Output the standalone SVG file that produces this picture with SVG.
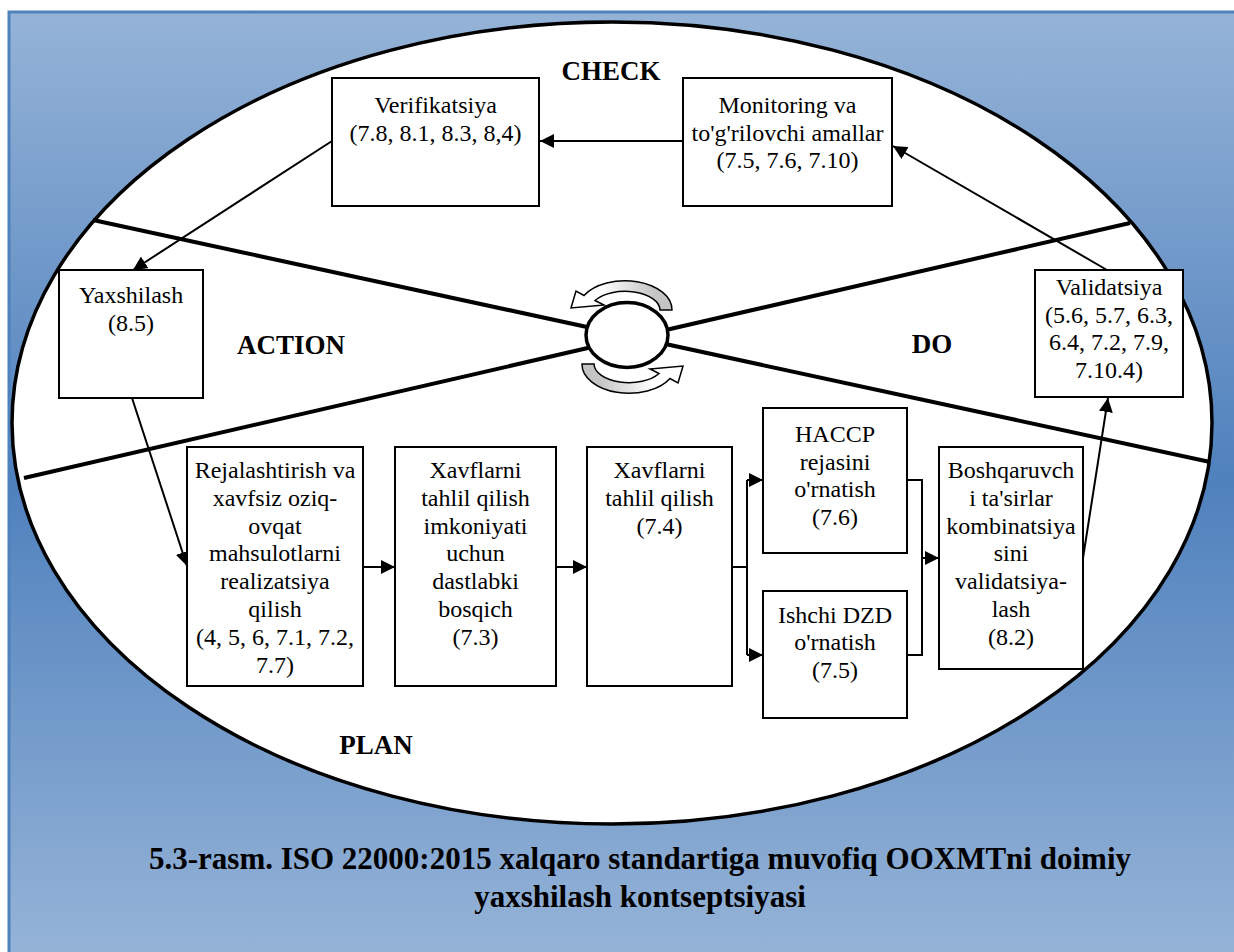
<svg xmlns="http://www.w3.org/2000/svg" width="1234" height="952" viewBox="0 0 1234 952">
<defs>
<linearGradient id="bg" x1="0" y1="12" x2="0" y2="952" gradientUnits="userSpaceOnUse">
<stop offset="0" stop-color="#95b3d7"/>
<stop offset="0.5" stop-color="#4f81bd"/>
<stop offset="1" stop-color="#95b3d7"/>
</linearGradient>
<linearGradient id="cg" x1="600" y1="0" x2="655" y2="0" gradientUnits="userSpaceOnUse">
<stop offset="0" stop-color="#ffffff"/>
<stop offset="1" stop-color="#c4c4c4"/>
</linearGradient>
<marker id="ah" markerUnits="userSpaceOnUse" markerWidth="14" markerHeight="14" refX="14" refY="7" orient="auto" viewBox="0 0 14 14">
<path d="M0,0 L14,7 L0,14 z" fill="#000"/>
</marker>
<path id="carrow" d="M672,310 A47,29 0 0 0 584,295.5 L576,291 L571,308 L604,305 L595,300.5 A35,19 0 0 1 660,310 Z"/>
</defs>
<style>
.box{fill:#fff;stroke:#000;stroke-width:2}
.t{font-size:24px;fill:#000;text-anchor:middle}
.lb{font-size:27px;font-weight:bold;fill:#000;text-anchor:middle}
.cap{font-size:31px;font-weight:bold;fill:#000;text-anchor:middle}
.cn{fill:none;stroke:#000;stroke-width:2}
.ca{fill:none;stroke:#000;stroke-width:2;marker-end:url(#ah)}
.x{stroke:#000;stroke-width:4;fill:none}
</style>
<rect x="9" y="12" width="1240" height="960" fill="url(#bg)" stroke="#4f81bd" stroke-width="3"/>
<g id="cycle">
<ellipse cx="612" cy="423" rx="600" ry="401" fill="#fff" stroke="#000" stroke-width="3.5"/>
<line class="x" x1="93" y1="220" x2="1210" y2="462"/>
<line class="x" x1="24" y1="478" x2="1130" y2="223"/>
<ellipse cx="627" cy="335" rx="41" ry="32.5" fill="#fff" stroke="#000" stroke-width="3.5"/>
<use href="#carrow" fill="url(#cg)" stroke="#000" stroke-width="1.5"/>
<use href="#carrow" fill="url(#cg)" stroke="#000" stroke-width="1.5" transform="rotate(180 627 337)"/>
</g>
<g font-family="Liberation Serif, Times New Roman, DejaVu Serif, serif">
<g id="labels">
<text class="lb" x="611" y="80">CHECK</text>
<text class="lb" x="291" y="354">ACTION</text>
<text class="lb" x="932" y="353">DO</text>
<text class="lb" x="376" y="754">PLAN</text>
</g>
<g id="connectors">
<line class="ca" x1="683" y1="141" x2="540" y2="141"/>
<line class="ca" x1="332" y1="141" x2="133" y2="270"/>
<line class="ca" x1="132" y1="398" x2="187" y2="566"/>
<line class="ca" x1="363" y1="567" x2="395" y2="567"/>
<line class="ca" x1="556" y1="567" x2="587" y2="567"/>
<polyline class="cn" points="732,567 747,567"/>
<line class="cn" x1="747" y1="480" x2="747" y2="655"/>
<line class="ca" x1="747" y1="480" x2="763" y2="480"/>
<line class="ca" x1="747" y1="655" x2="763" y2="655"/>
<polyline class="cn" points="907,480 922,480 922,655 907,655"/>
<line class="ca" x1="922" y1="558" x2="939" y2="558"/>
<line class="ca" x1="1083" y1="558" x2="1108" y2="398"/>
<line class="ca" x1="1107" y1="270" x2="893" y2="146"/>
</g>
<g id="n-verifikatsiya">
<rect class="box" x="332" y="78" width="207" height="128"/>
<text class="t" x="435.5" y="113">Verifikatsiya</text>
<text class="t" x="435.5" y="141">(7.8, 8.1, 8.3, 8,4)</text>
</g>
<g id="n-monitoring">
<rect class="box" x="683" y="78" width="209" height="128"/>
<text class="t" x="787.5" y="113">Monitoring va</text>
<text class="t" x="787.5" y="141">to'g'rilovchi amallar</text>
<text class="t" x="787.5" y="168">(7.5, 7.6, 7.10)</text>
</g>
<g id="n-yaxshilash">
<rect class="box" x="59" y="270" width="144" height="128"/>
<text class="t" x="131" y="303">Yaxshilash</text>
<text class="t" x="131" y="331">(8.5)</text>
</g>
<g id="n-validatsiya">
<rect class="box" x="1035" y="270" width="148" height="127"/>
<text class="t" x="1109" y="295">Validatsiya</text>
<text class="t" x="1109" y="323">(5.6, 5.7, 6.3,</text>
<text class="t" x="1109" y="350">6.4, 7.2, 7.9,</text>
<text class="t" x="1109" y="378">7.10.4)</text>
</g>
<g id="n-rejalashtirish">
<rect class="box" x="187" y="447" width="176" height="239"/>
<text class="t" x="275" y="478">Rejalashtirish va</text>
<text class="t" x="275" y="506">xavfsiz oziq-</text>
<text class="t" x="275" y="534">ovqat</text>
<text class="t" x="275" y="561">mahsulotlarni</text>
<text class="t" x="275" y="589">realizatsiya</text>
<text class="t" x="275" y="617">qilish</text>
<text class="t" x="275" y="645">(4, 5, 6, 7.1, 7.2,</text>
<text class="t" x="275" y="673">7.7)</text>
</g>
<g id="n-xavf1">
<rect class="box" x="395" y="447" width="161" height="239"/>
<text class="t" x="475.5" y="478">Xavflarni</text>
<text class="t" x="475.5" y="506">tahlil qilish</text>
<text class="t" x="475.5" y="534">imkoniyati</text>
<text class="t" x="475.5" y="561">uchun</text>
<text class="t" x="475.5" y="589">dastlabki</text>
<text class="t" x="475.5" y="617">bosqich</text>
<text class="t" x="475.5" y="645">(7.3)</text>
</g>
<g id="n-xavf2">
<rect class="box" x="587" y="447" width="145" height="239"/>
<text class="t" x="659.5" y="478">Xavflarni</text>
<text class="t" x="659.5" y="506">tahlil qilish</text>
<text class="t" x="659.5" y="534">(7.4)</text>
</g>
<g id="n-haccp">
<rect class="box" x="763" y="408" width="144" height="145"/>
<text class="t" x="835" y="442">HACCP</text>
<text class="t" x="835" y="470">rejasini</text>
<text class="t" x="835" y="497">o'rnatish</text>
<text class="t" x="835" y="525">(7.6)</text>
</g>
<g id="n-ishchi">
<rect class="box" x="763" y="591" width="144" height="127"/>
<text class="t" x="835" y="623">Ishchi DZD</text>
<text class="t" x="835" y="650">o'rnatish</text>
<text class="t" x="835" y="678">(7.5)</text>
</g>
<g id="n-boshqaruvchi">
<rect class="box" x="939" y="447" width="144" height="222"/>
<text class="t" x="1011" y="478">Boshqaruvch</text>
<text class="t" x="1011" y="506">i ta'sirlar</text>
<text class="t" x="1011" y="534">kombinatsiya</text>
<text class="t" x="1011" y="561">sini</text>
<text class="t" x="1011" y="589">validatsiya-</text>
<text class="t" x="1011" y="617">lash</text>
<text class="t" x="1011" y="645">(8.2)</text>
</g>
<g id="caption">
<text class="cap" x="640" y="869">5.3-rasm. ISO 22000:2015 xalqaro standartiga muvofiq OOXMTni doimiy</text>
<text class="cap" x="640" y="907">yaxshilash kontseptsiyasi</text>
</g>
</g>
</svg>
